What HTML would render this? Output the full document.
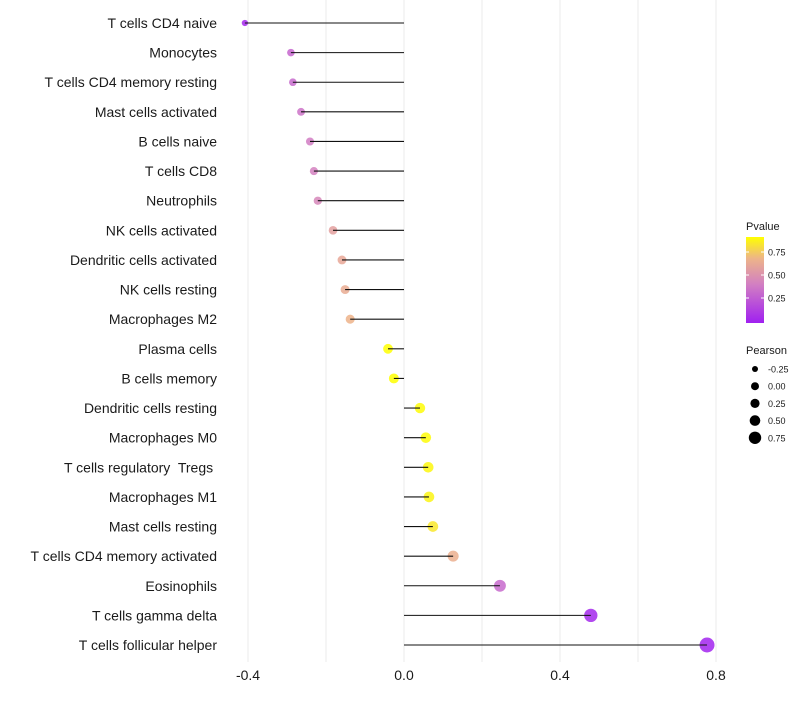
<!DOCTYPE html>
<html><head><meta charset="utf-8"><style>
body{margin:0;background:#fff;font-family:"Liberation Sans",sans-serif}
text{white-space:pre}
</style></head><body>
<svg id="c" width="800" height="700" xmlns="http://www.w3.org/2000/svg">
<defs><linearGradient id="pg" x1="0" y1="1" x2="0" y2="0">
<stop offset="0" stop-color="#A020F0"/><stop offset="0.45" stop-color="#D27FC2"/><stop offset="0.75" stop-color="#EDB489"/><stop offset="1" stop-color="#FFFF00"/></linearGradient></defs>
<g id="grid"></g><g id="marks"></g><g id="labels"></g><g id="legend"></g>
</svg>
<script>
const categories=["T cells CD4 naive","Monocytes","T cells CD4 memory resting","Mast cells activated","B cells naive","T cells CD8","Neutrophils","NK cells activated","Dendritic cells activated","NK cells resting","Macrophages M2","Plasma cells","B cells memory","Dendritic cells resting","Macrophages M0","T cells regulatory  Tregs ","Macrophages M1","Mast cells resting","T cells CD4 memory activated","Eosinophils","T cells gamma delta","T cells follicular helper"];
const pearson=[-0.408,-0.29,-0.285,-0.264,-0.241,-0.231,-0.221,-0.182,-0.159,-0.151,-0.138,-0.041,-0.026,0.041,0.056,0.062,0.064,0.074,0.126,0.246,0.479,0.777];
const pvalue=[0.03,0.3,0.32,0.36,0.4,0.42,0.45,0.58,0.62,0.64,0.68,0.92,0.92,0.9,0.9,0.89,0.88,0.84,0.66,0.32,0.04,0.02];
const xTicks=[-0.4,0.0,0.4,0.8];
const xTickLabels=["-0.4","0.0","0.4","0.8"];
const gridVals=[-0.4,-0.2,0,0.2,0.4,0.6,0.8];
const pTicks=[0.25,0.5,0.75];
const sizeLegend=[-0.25,0,0.25,0.5,0.75];
const NS="http://www.w3.org/2000/svg";
const X=v=>404+v*390;
const Y=i=>23+i*(622/21);
const R=v=>Math.sqrt(Math.max(1,25.7+39*v));
const pmax=0.913;
const stops=[[0,[160,32,240]],[0.45,[210,127,194]],[0.75,[237,180,137]],[1,[255,255,0]]];
function col(p){const t=Math.min(1,Math.max(0,p/pmax));let k=0;while(k<stops.length-2&&t>stops[k+1][0])k++;const a=stops[k],b=stops[k+1];const f=(t-a[0])/(b[0]-a[0]);const c=a[1].map((v,j)=>Math.round(v+(b[1][j]-v)*f));return `rgb(${c[0]},${c[1]},${c[2]})`;}
function mk(tag,attrs,parent,txt){const e=document.createElementNS(NS,tag);for(const k in attrs)e.setAttribute(k,attrs[k]);if(txt!==undefined)e.textContent=txt;parent.appendChild(e);return e;}
const grid=document.getElementById('grid'),marks=document.getElementById('marks'),labels=document.getElementById('labels'),legend=document.getElementById('legend');
gridVals.forEach(v=>{const l=mk('line',{x1:X(v),x2:X(v),y1:0,y2:662,stroke:'#ebebeb','stroke-width':1},grid);

});
categories.forEach((c,i)=>{
const y=Y(i);
const pt=mk('circle',{cx:X(pearson[i]),cy:y,r:R(pearson[i]),fill:col(pvalue[i]),'fill-opacity':0.85},marks);


const ln=mk('line',{x1:X(0),x2:X(pearson[i]),y1:y,y2:y,stroke:'#111','stroke-width':1.1},marks);


const t=mk('text',{x:217,y:y+5,'text-anchor':'end','font-size':14,fill:'#1a1a1a'},labels,c);


});
xTicks.forEach((v,i)=>{const t=mk('text',{x:X(v),y:680,'text-anchor':'middle','font-size':14,fill:'#1a1a1a'},labels,xTickLabels[i]);

});
const lt=mk('text',{x:746,y:230,'font-size':11,fill:'#1a1a1a'},legend,'Pvalue');


const bar=mk('rect',{x:746,y:237,width:18,height:86,fill:'url(#pg)'},legend);


const PY=p=>321-p*92;
pTicks.forEach(p=>{mk('line',{x1:746,x2:749,y1:PY(p),y2:PY(p),stroke:'#fff'},legend);mk('line',{x1:761,x2:764,y1:PY(p),y2:PY(p),stroke:'#fff'},legend);
const t=mk('text',{x:768,y:PY(p)+3.5,'font-size':9,fill:'#1a1a1a'},legend,p.toFixed(2));

});
const st=mk('text',{x:746,y:354,'font-size':11,fill:'#1a1a1a'},legend,'Pearson');


const LR=[3,4,4.6,5.3,6.2];
sizeLegend.forEach((v,i)=>{const y=369+i*17.2;
const c=mk('circle',{cx:755,cy:y,r:LR[i],fill:'#000'},legend);


const t=mk('text',{x:768,y:y+3.5,'font-size':9,fill:'#1a1a1a'},legend,v.toFixed(2));

});
</script>
</body></html>
